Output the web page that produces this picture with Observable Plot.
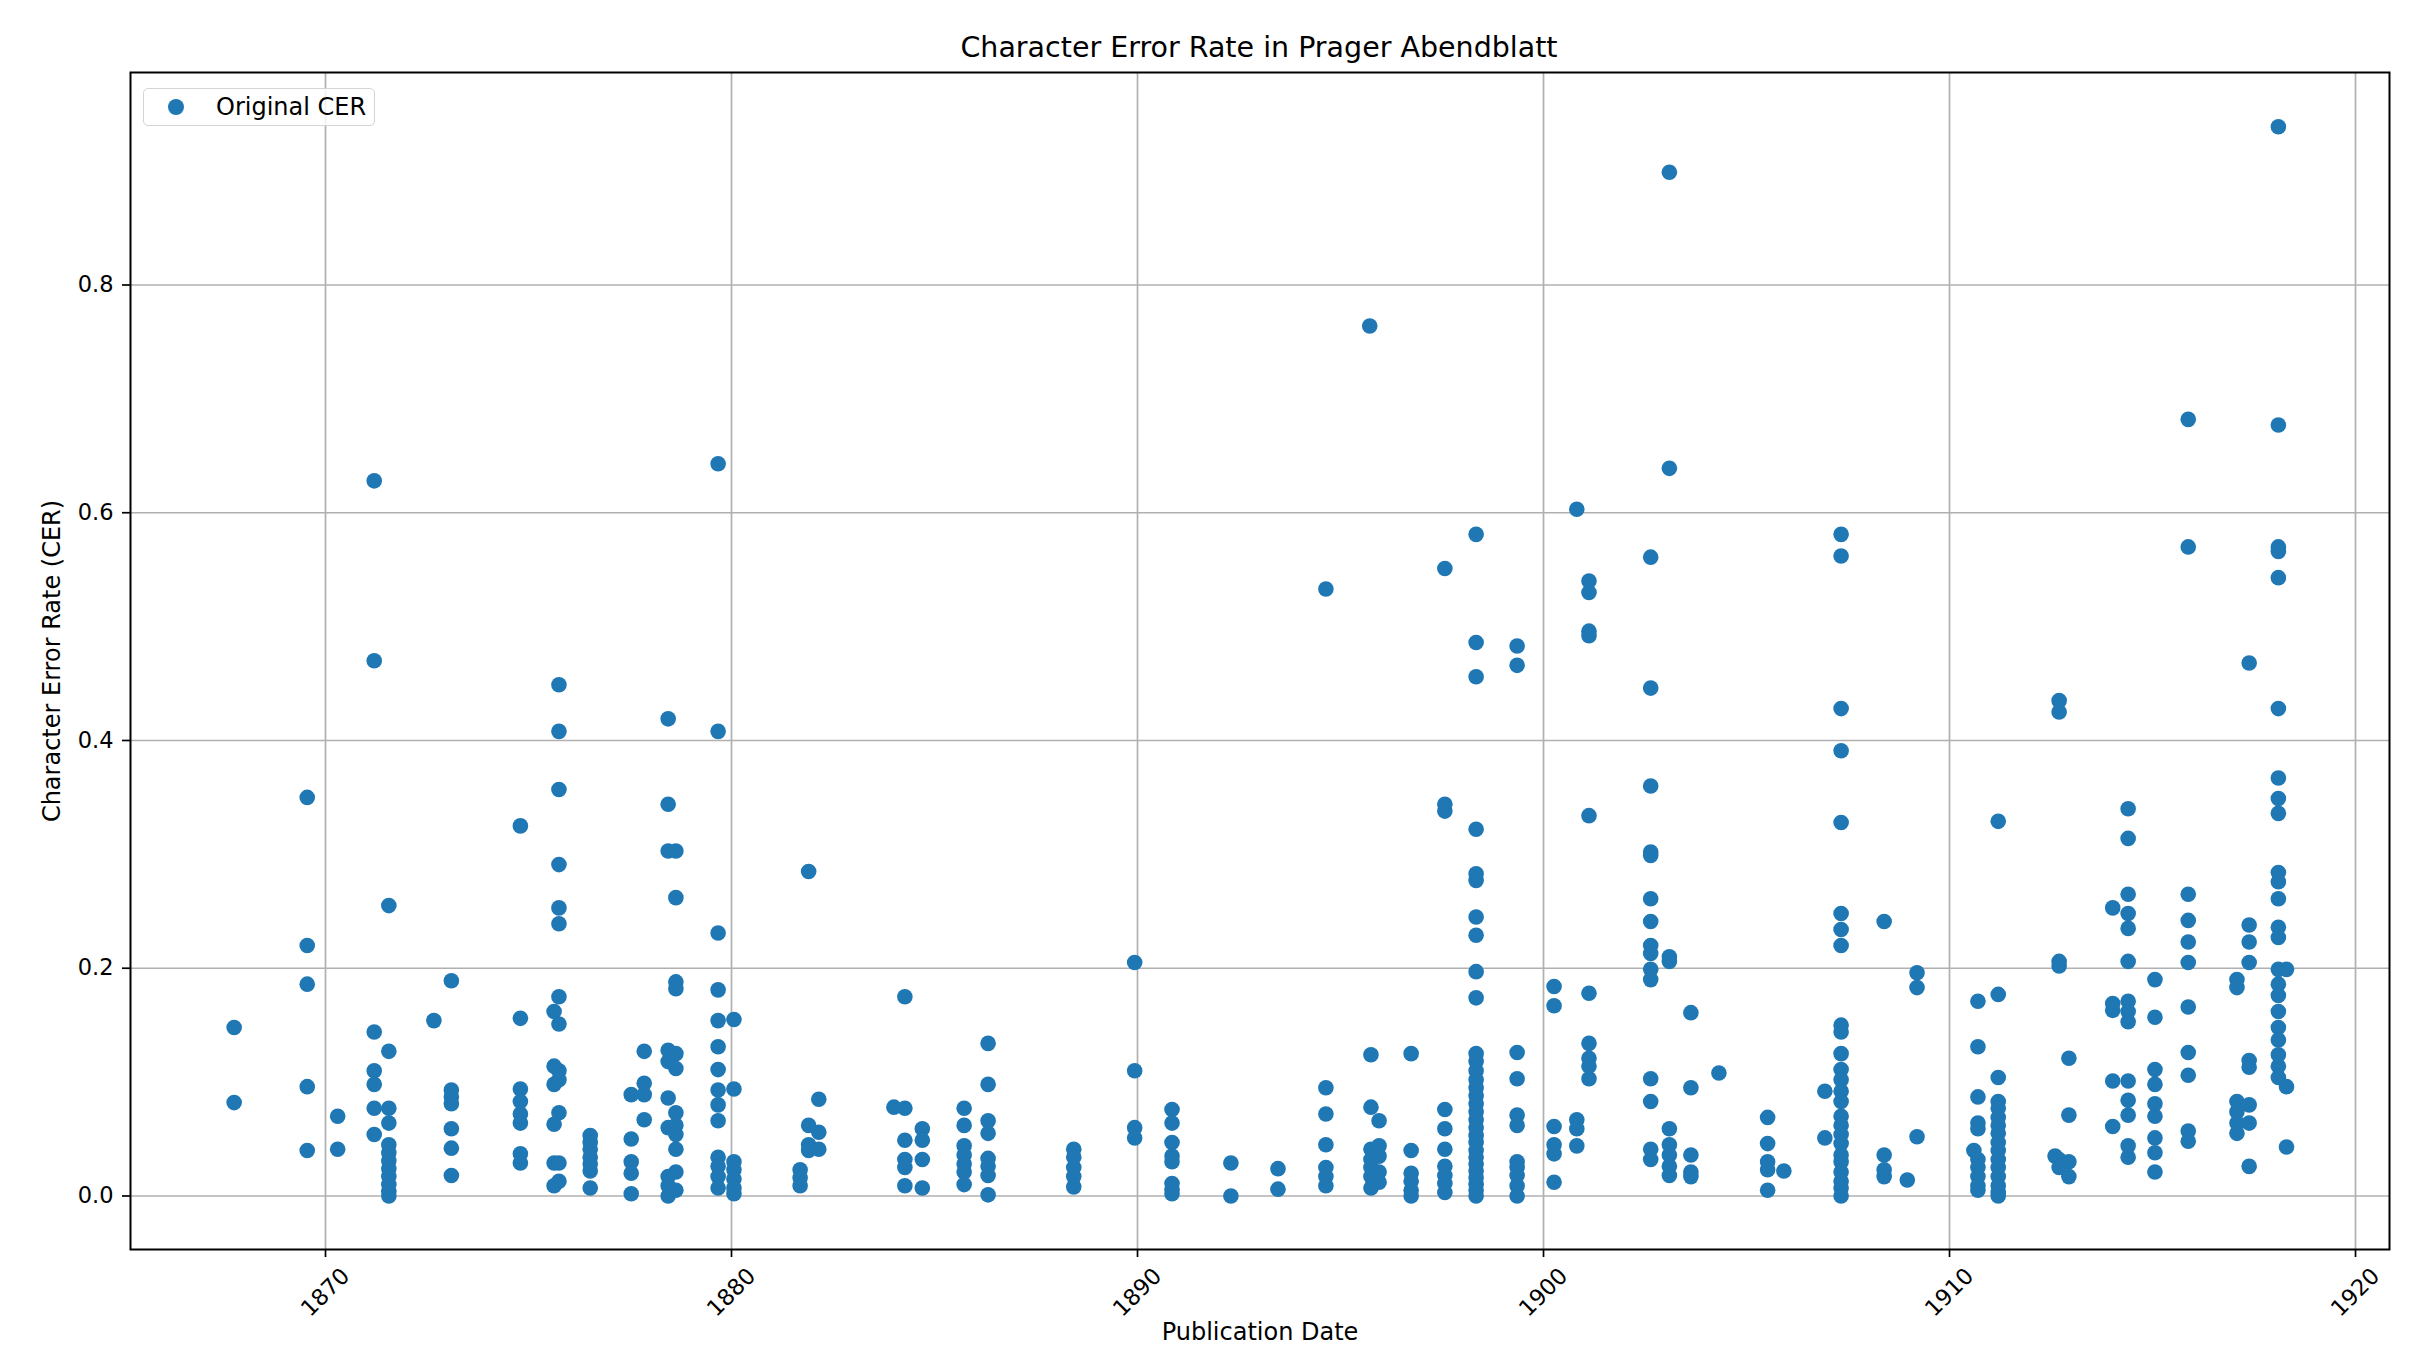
<!DOCTYPE html>
<html>
<head>
<meta charset="utf-8">
<script src="https://cdn.jsdelivr.net/npm/d3@7"></script>
<script src="https://cdn.jsdelivr.net/npm/@observablehq/plot@0.6"></script>
<style>
  body { margin: 0; background: #fff; font-family: "DejaVu Sans", sans-serif; }
  #wrap { position: relative; width: 2411px; height: 1348px; overflow: hidden; background: #fff; }
  #title { margin-left: 130px; width: 2258px; height: 62px; box-sizing: border-box; padding-top: 34px;
           text-align: center; font-size: 28.5px; line-height: 28px; color: #000; white-space: nowrap; }
  #legend { position: absolute; left: 143px; top: 88px; width: 232px; height: 38px; box-sizing: border-box;
            border: 1.5px solid #d4d4d4; border-radius: 5px; background: rgba(255,255,255,0.8); }
  #legend .mk { position: absolute; left: 24px; top: 10px; width: 16px; height: 16px; border-radius: 50%; background: #1f77b4; }
  #legend .lb { position: absolute; left: 72px; top: 3px; font-size: 24px; line-height: 30px; color: #000; white-space: nowrap; }
  svg { display: block; }
</style>
</head>
<body>
<div id="wrap">
  <div id="title">Character Error Rate in Prager Abendblatt</div>
  <div id="chart"></div>
  <div id="legend"><div class="mk"></div><div class="lb">Original CER</div></div>
</div>
<script>
// Publication dates (decimal years) of the issues
const issueDates = [
  1867.75, 1869.55, 1870.3, 1871.2, 1871.56, 1872.67, 1873.1, 1874.8, 1875.63, 1875.75,
  1876.52, 1877.53, 1877.85, 1878.44, 1878.63, 1879.67, 1880.06, 1881.69, 1881.9, 1882.15,
  1884.0, 1884.27, 1884.7, 1885.73, 1886.32, 1888.43, 1889.93, 1890.85, 1892.3, 1893.46,
  1894.64, 1895.72, 1895.75, 1895.95, 1896.74, 1897.57, 1898.34, 1899.35, 1900.26, 1900.82,
  1901.12, 1902.64, 1903.1, 1903.63, 1904.32, 1905.52, 1905.92, 1906.93, 1907.33, 1908.39,
  1908.96, 1909.2, 1910.6, 1910.7, 1911.2, 1912.6, 1912.7, 1912.94, 1914.02, 1914.4,
  1915.06, 1915.88, 1917.08, 1917.38, 1918.1, 1918.3
];

// Character error rates of the pages of each issue
const cerByIssue = [
  [0.148, 0.082],
  [0.350, 0.220, 0.186, 0.096, 0.040],
  [0.070, 0.041],
  [0.628, 0.470, 0.144, 0.110, 0.098, 0.077, 0.054],
  [0.255, 0.127, 0.077, 0.064, 0.045, 0.038, 0.031, 0.024, 0.017, 0.010, 0.004, 0.0],
  [0.154],
  [0.189, 0.093, 0.087, 0.081, 0.059, 0.042, 0.018],
  [0.325, 0.156, 0.094, 0.083, 0.072, 0.064, 0.037, 0.029],
  [0.162, 0.114, 0.098, 0.063, 0.029, 0.009],
  [0.449, 0.408, 0.357, 0.291, 0.253, 0.239, 0.175, 0.151, 0.110, 0.102, 0.073, 0.029, 0.013],
  [0.053, 0.047, 0.041, 0.034, 0.028, 0.022, 0.007],
  [0.089, 0.050, 0.030, 0.020, 0.002],
  [0.127, 0.099, 0.089, 0.067],
  [0.419, 0.344, 0.303, 0.128, 0.118, 0.086, 0.060, 0.017, 0.009, 0.0],
  [0.303, 0.262, 0.188, 0.182, 0.125, 0.112, 0.073, 0.062, 0.054, 0.041, 0.021, 0.005],
  [0.643, 0.408, 0.231, 0.181, 0.154, 0.131, 0.111, 0.093, 0.080, 0.066, 0.034, 0.026, 0.017, 0.007],
  [0.155, 0.094, 0.030, 0.023, 0.015, 0.007, 0.002],
  [0.023, 0.016, 0.009],
  [0.285, 0.062, 0.045, 0.040],
  [0.085, 0.056, 0.041],
  [0.078],
  [0.175, 0.077, 0.049, 0.032, 0.025, 0.009],
  [0.059, 0.049, 0.032, 0.007],
  [0.077, 0.062, 0.044, 0.036, 0.028, 0.021, 0.010],
  [0.134, 0.098, 0.066, 0.055, 0.033, 0.026, 0.018, 0.001],
  [0.041, 0.034, 0.025, 0.017, 0.008],
  [0.205, 0.110, 0.060, 0.051],
  [0.076, 0.064, 0.047, 0.035, 0.030, 0.011, 0.006, 0.002],
  [0.029, 0.0],
  [0.024, 0.006],
  [0.533, 0.095, 0.072, 0.045, 0.025, 0.017, 0.009],
  [0.764],
  [0.124, 0.078, 0.041, 0.032, 0.025, 0.017, 0.007],
  [0.066, 0.044, 0.035, 0.021, 0.012],
  [0.125, 0.040, 0.020, 0.013, 0.005, 0.0],
  [0.551, 0.344, 0.338, 0.076, 0.059, 0.041, 0.026, 0.018, 0.011, 0.003],
  [0.581, 0.486, 0.456, 0.322, 0.283, 0.277, 0.245, 0.229, 0.197, 0.174, 0.125, 0.118, 0.110, 0.102, 0.095,
   0.088, 0.081, 0.074, 0.067, 0.060, 0.053, 0.047, 0.040, 0.034, 0.028, 0.022, 0.016, 0.010, 0.005, 0.0],
  [0.483, 0.466, 0.126, 0.103, 0.071, 0.062, 0.030, 0.025, 0.018, 0.009, 0.0],
  [0.184, 0.167, 0.061, 0.045, 0.037, 0.012],
  [0.603, 0.067, 0.059, 0.044],
  [0.540, 0.530, 0.496, 0.492, 0.334, 0.178, 0.134, 0.121, 0.114, 0.103],
  [0.561, 0.446, 0.360, 0.302, 0.299, 0.261, 0.241, 0.220, 0.213, 0.199, 0.190, 0.103, 0.083, 0.041, 0.032],
  [0.899, 0.639, 0.210, 0.206, 0.059, 0.045, 0.036, 0.026, 0.018],
  [0.161, 0.095, 0.036, 0.021, 0.017],
  [0.108],
  [0.069, 0.046, 0.030, 0.023, 0.005],
  [0.022],
  [0.092, 0.051],
  [0.581, 0.562, 0.428, 0.391, 0.328, 0.248, 0.234, 0.220, 0.150, 0.144, 0.125, 0.111, 0.102, 0.092, 0.083,
   0.070, 0.062, 0.054, 0.046, 0.036, 0.030, 0.021, 0.013, 0.007, 0.0],
  [0.241, 0.036, 0.023, 0.017],
  [0.014],
  [0.196, 0.183, 0.052],
  [0.040],
  [0.171, 0.131, 0.087, 0.064, 0.059, 0.032, 0.025, 0.017, 0.009, 0.005],
  [0.329, 0.177, 0.104, 0.083, 0.077, 0.069, 0.062, 0.055, 0.047, 0.040, 0.032, 0.025, 0.017, 0.009, 0.003, 0.0],
  [0.035],
  [0.435, 0.425, 0.206, 0.202, 0.032, 0.025],
  [0.121, 0.071, 0.030, 0.017],
  [0.253, 0.169, 0.163, 0.101, 0.061],
  [0.340, 0.314, 0.265, 0.248, 0.235, 0.206, 0.171, 0.162, 0.153, 0.101, 0.084, 0.071, 0.044, 0.034],
  [0.190, 0.157, 0.111, 0.098, 0.081, 0.070, 0.051, 0.038, 0.021],
  [0.682, 0.570, 0.265, 0.242, 0.223, 0.205, 0.166, 0.126, 0.106, 0.057, 0.048],
  [0.190, 0.183, 0.083, 0.074, 0.064, 0.055],
  [0.468, 0.238, 0.223, 0.205, 0.119, 0.113, 0.080, 0.064, 0.026],
  [0.939, 0.677, 0.570, 0.566, 0.543, 0.428, 0.367, 0.349, 0.336, 0.284, 0.276, 0.261, 0.236, 0.227, 0.199,
   0.186, 0.176, 0.162, 0.148, 0.137, 0.124, 0.114, 0.104],
  [0.199, 0.096, 0.043]
];

const xTicks = [1870, 1880, 1890, 1900, 1910, 1920];
const yTicks = [0.0, 0.2, 0.4, 0.6, 0.8];
const xDomain = [1865.197, 1920.837];
const yDomain = [-0.047, 0.9866];

const rows = issueDates.flatMap((d, i) => cerByIssue[i].map(v => ({date: d, cer: v})));

const chart = Plot.plot({
  width: 2411,
  height: 1286,
  marginTop: 10,
  marginBottom: 99,
  marginLeft: 130,
  marginRight: 22,
  style: {fontFamily: "DejaVu Sans", fontSize: "22.5px", color: "#000", background: "#fff"},
  x: {domain: xDomain},
  y: {domain: yDomain},
  marks: [
    Plot.gridX(xTicks, {stroke: "#b0b0b0", strokeOpacity: 1, strokeWidth: 1.7}),
    Plot.gridY(yTicks, {stroke: "#b0b0b0", strokeOpacity: 1, strokeWidth: 1.7}),
    Plot.dot(rows, {x: "date", y: "cer", r: 7.8, fill: "#1f77b4", stroke: "none"}),
    Plot.frame({stroke: "#000", strokeWidth: 2}),
    Plot.axisX({ticks: xTicks, tickSize: 8, tickPadding: 35, tickRotate: -45, textAnchor: "middle",
                lineAnchor: "middle", tickFormat: d => String(d), label: null, strokeWidth: 1.7, fontSize: 22.5}),
    Plot.axisY({ticks: yTicks, tickSize: 8, tickPadding: 9, tickFormat: d => d.toFixed(1), label: null, strokeWidth: 1.7, fontSize: 22.5}),
    Plot.text(["Publication Date"], {frameAnchor: "bottom", dy: 90, lineAnchor: "bottom", textAnchor: "middle", fontSize: 24}),
    Plot.text(["Character Error Rate (CER)"], {frameAnchor: "left", dx: -78, rotate: -90, textAnchor: "middle", lineAnchor: "middle", fontSize: 24})
  ]
});
document.getElementById("chart").append(chart);
</script>
</body>
</html>
